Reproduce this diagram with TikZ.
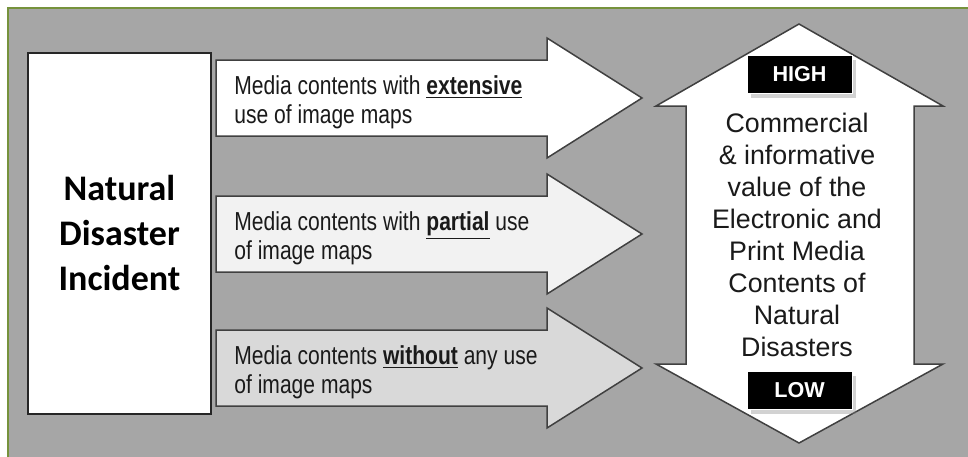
\documentclass[tikz,border=0pt]{standalone}
\usepackage{fontspec}
\setmainfont{Liberation Sans}
\newfontfamily\carlito{Carlito}
\newfontfamily\narrowsans[FakeStretch=0.81]{Liberation Sans}
\usetikzlibrary{shadows}
\definecolor{panelgray}{HTML}{A6A6A6}
\definecolor{frame}{HTML}{76923C}
\definecolor{boxline}{HTML}{262626}
\definecolor{arrowline}{HTML}{404040}
\definecolor{textdark}{HTML}{1A1A1A}
\definecolor{lightshade}{HTML}{F2F2F2}
\definecolor{midshade}{HTML}{D9D9D9}

\begin{document}
\begin{tikzpicture}[x=0.5pt,y=-0.5pt,
    incident/.style={draw=boxline,line width=1pt,fill=white,minimum width=91.5pt,minimum height=180.5pt,
                     align=center,font=\carlito\bfseries\fontsize{18}{22.5}\selectfont},
    flow arrow/.style={draw=arrowline,line width=0.75pt,line join=miter},
    flow text/.style={anchor=west,align=left,inner sep=0pt,text=textdark,font=\narrowsans\fontsize{13}{14.6}\selectfont},
    value text/.style={align=center,inner sep=0pt,text=textdark,font=\fontsize{13.4}{16}\selectfont},
    level tag/.style={fill=black,draw=white,line width=0.4pt,text=white,font=\bfseries\fontsize{10.8}{12}\selectfont,
                      minimum width=52.5pt,minimum height=19pt,
                      drop shadow={shadow xshift=2pt,shadow yshift=-2.5pt,opacity=0.35}}]

  \useasboundingbox (0,0) rectangle (968,456);
  \clip (0,0) rectangle (968,456);
  \draw[draw=frame,line width=1pt,fill=panelgray] (8,8) rectangle (990,480);

  \node[incident] (incident) at (119.5,233) {Natural\\Disaster\\Incident};

  \foreach \c/\shade/\name/\txt in {
      98/white/extensive/{Media contents with \underline{\textbf{extensive}}\\use of image maps},
      234/lightshade/partial/{Media contents with \underline{\textbf{partial}} use\\of image maps},
      368/midshade/without/{Media contents \underline{\textbf{without}} any use\\of image maps}}
  {
    \draw[flow arrow,fill=\shade] (216,{\c-38}) -- (547,{\c-38}) -- (547,{\c-60}) -- (642,\c)
      -- (547,{\c+60}) -- (547,{\c+38}) -- (216,{\c+38}) -- cycle;
    \node[flow text] (\name) at (234,{\c+4}) {\txt};
  }

  \draw[flow arrow,fill=white] (799,24) -- (943,106) -- (914,106) -- (914,364) -- (943,364)
    -- (799,443) -- (656,364) -- (686,364) -- (686,106) -- (656,106) -- cycle;
  \node[value text] (value) at (797,235) {Commercial\\\& informative\\value of the\\Electronic and\\Print Media\\Contents of\\Natural\\Disasters};
  \node[level tag] (high) at (799.5,74) {HIGH};
  \node[level tag] (low) at (799.5,390) {LOW};
\end{tikzpicture}
\end{document}
